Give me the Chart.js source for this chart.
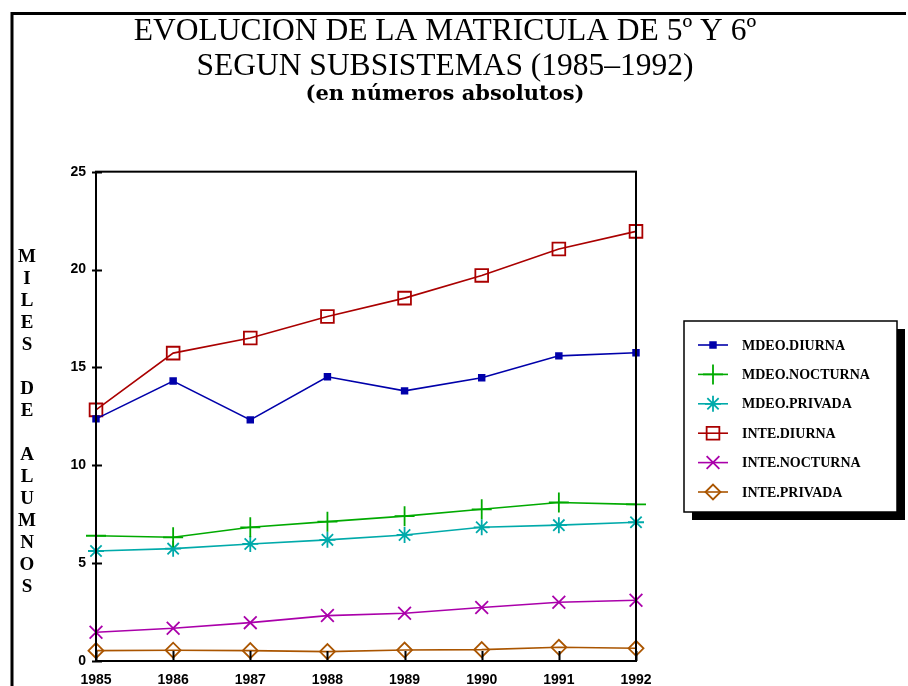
<!DOCTYPE html>
<html>
<head>
<meta charset="utf-8">
<script src="https://cdn.jsdelivr.net/npm/chart.js@4.4.1/dist/chart.umd.min.js"></script>
<style>
  html, body { margin: 0; padding: 0; background: #fff; }
  #wrap { width: 908px; height: 686px; }
</style>
</head>
<body>
<div id="wrap"><canvas id="matriculaChart" width="908" height="686"></canvas></div>
<script>
// data (miles de alumnos)
const years = ['1985', '1986', '1987', '1988', '1989', '1990', '1991', '1992'];
const mdeoDiurna   = [12.37, 14.3, 12.32, 14.52, 13.8, 14.47, 15.59, 15.75];
const mdeoNocturna = [6.4, 6.32, 6.83, 7.12, 7.4, 7.75, 8.1, 8.0];
const mdeoPrivada  = [5.62, 5.74, 5.98, 6.19, 6.44, 6.83, 6.94, 7.09];
const inteDiurna   = [12.83, 15.73, 16.5, 17.6, 18.54, 19.7, 21.05, 21.95];
const inteNocturna = [1.47, 1.67, 1.96, 2.32, 2.44, 2.73, 3.0, 3.1];
const intePrivada  = [0.53, 0.55, 0.53, 0.48, 0.56, 0.58, 0.7, 0.65];
const yTicks = [0, 5, 10, 15, 20, 25];
const seriesNames = ['MDEO.DIURNA', 'MDEO.NOCTURNA', 'MDEO.PRIVADA', 'INTE.DIURNA', 'INTE.NOCTURNA', 'INTE.PRIVADA'];
const titleLines = ['EVOLUCION DE LA MATRICULA DE 5º Y 6º', 'SEGUN SUBSISTEMAS (1985\u20131992)'];
const subtitleText = '(en números absolutos)';
const yAxisLabel = 'MILES DE ALUMNOS';

function series(label, data, color, style, radius, filled) {
  return {
    label: label,
    data: data,
    borderColor: color,
    backgroundColor: color,
    borderWidth: 1.6,
    tension: 0,
    pointStyle: style,
    pointRadius: radius,
    pointHoverRadius: radius,
    pointBorderWidth: 1.8,
    pointBorderColor: color,
    pointBackgroundColor: filled ? color : 'rgba(0,0,0,0)',
    clip: false
  };
}

// outer frame, plot box, inward ticks, stacked y label and the shadowed legend
const decor = {
  id: 'decor',
  beforeDraw(chart) {
    const ctx = chart.ctx;
    ctx.save();
    ctx.fillStyle = '#fff';
    ctx.fillRect(0, 0, chart.width, chart.height);
    ctx.strokeStyle = '#000';
    ctx.lineWidth = 3;
    ctx.beginPath();
    ctx.moveTo(12, chart.height);
    ctx.lineTo(12, 13.5);
    ctx.lineTo(906, 13.5);
    ctx.stroke();
    ctx.restore();
  },
  afterDraw(chart) {
    const ctx = chart.ctx;
    const a = chart.chartArea;
    const xs = chart.scales.x, ys = chart.scales.y;
    ctx.save();
    ctx.strokeStyle = '#000';
    ctx.lineWidth = 2;
    ctx.strokeRect(a.left, a.top, a.right - a.left, a.bottom - a.top);
    ctx.beginPath();
    yTicks.forEach(v => {
      const py = Math.round(ys.getPixelForValue(v)) + 0.5;
      ctx.moveTo(a.left - 4, py);
      ctx.lineTo(a.left + 6, py);
    });
    years.forEach((y, i) => {
      const px = Math.round(xs.getPixelForValue(i)) + 0.5;
      ctx.moveTo(px, a.bottom);
      ctx.lineTo(px, a.bottom - 10);
    });
    ctx.stroke();

    // stacked vertical axis title
    ctx.fillStyle = '#000';
    ctx.font = 'bold 19px "Liberation Serif"';
    ctx.textAlign = 'center';
    ctx.textBaseline = 'middle';
    yAxisLabel.split('').forEach((ch, i) => {
      if (ch !== ' ') ctx.fillText(ch, 27, 257 + i * 22);
    });

    // legend box with drop shadow
    const bx = 684, by = 321, bw = 213, bh = 191;
    ctx.fillStyle = '#000';
    ctx.fillRect(bx + 8, by + 8, bw, bh);
    ctx.fillStyle = '#fff';
    ctx.fillRect(bx, by, bw, bh);
    ctx.lineWidth = 1.5;
    ctx.strokeRect(bx, by, bw, bh);
    chart.data.datasets.forEach((ds, i) => {
      const ry = by + 24 + i * 29.4;
      ctx.strokeStyle = ds.borderColor;
      ctx.lineWidth = 1.6;
      ctx.beginPath();
      ctx.moveTo(698, ry);
      ctx.lineTo(728, ry);
      ctx.stroke();
      ctx.fillStyle = ds.pointBackgroundColor;
      ctx.lineWidth = 1.8;
      Chart.helpers.drawPoint(ctx, {pointStyle: ds.pointStyle, radius: ds.pointRadius, rotation: 0, borderWidth: 1.8}, 713, ry);
      ctx.fillStyle = '#000';
      ctx.font = 'bold 14px "Liberation Serif"';
      ctx.textAlign = 'left';
      ctx.textBaseline = 'middle';
      ctx.fillText(ds.label, 742, ry + 1);
    });
    ctx.restore();
  }
};

const tickFont = {family: '"Liberation Sans", Arial, sans-serif', weight: 'bold', size: 14};

const ctx = document.getElementById('matriculaChart').getContext('2d');
const matriculaChart = new Chart(ctx, {
  type: 'line',
  data: {
    labels: years,
    datasets: [
      series(seriesNames[0], mdeoDiurna, '#0000aa', 'rect', 4, true),
      series(seriesNames[1], mdeoNocturna, '#00aa00', 'cross', 10, false),
      series(seriesNames[2], mdeoPrivada, '#00aaaa', 'star', 8, false),
      series(seriesNames[3], inteDiurna, '#aa0000', 'rect', 9, false),
      series(seriesNames[4], inteNocturna, '#aa00aa', 'crossRot', 9, false),
      series(seriesNames[5], intePrivada, '#aa5500', 'rectRot', 7.5, false)
    ]
  },
  options: {
    responsive: false,
    devicePixelRatio: 1,
    animation: false,
    layout: {padding: {left: 0, right: 18, top: 0, bottom: 0}},
    plugins: {
      legend: {display: false},
      tooltip: {enabled: false},
      title: {
        display: true,
        text: titleLines,
        color: '#000',
        font: {family: '"Liberation Serif", serif', size: 31.5, weight: 'normal', lineHeight: 1.09},
        padding: {top: 15, bottom: 0}
      },
      subtitle: {
        display: true,
        text: subtitleText,
        color: '#000',
        font: {family: '"DejaVu Serif", serif', size: 21, weight: 'bold', lineHeight: 1.0},
        padding: {top: 0, bottom: 67}
      }
    },
    scales: {
      x: {
        grid: {display: true, drawOnChartArea: false, drawTicks: false},
        border: {display: true, color: '#000', width: 2},
        ticks: {color: '#000', font: tickFont, padding: 11, maxRotation: 0, autoSkip: false},
        afterFit: s => { s.height = 25; }
      },
      y: {
        min: 0,
        max: 25,
        grid: {display: true, drawOnChartArea: false, drawTicks: false},
        border: {display: true, color: '#000', width: 2},
        ticks: {color: '#000', font: tickFont, padding: 10},
        afterBuildTicks: s => { s.ticks = yTicks.map(v => ({value: v})); },
        afterFit: s => { s.width = 96; }
      },
      yRight: {
        type: 'linear',
        position: 'right',
        display: true,
        grid: {display: false},
        border: {display: false},
        ticks: {display: false},
        afterFit: s => { s.width = 254; }
      }
    }
  },
  plugins: [decor]
});
</script>
</body>
</html>
